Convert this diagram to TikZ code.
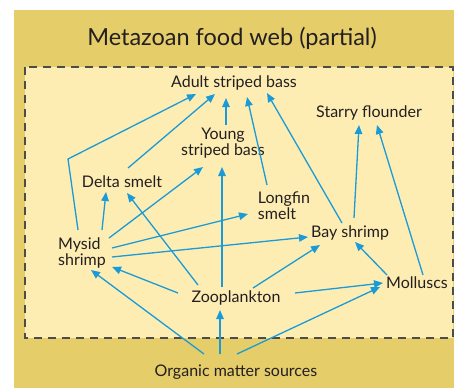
\documentclass[tikz,border=0pt]{standalone}
\usepackage{fontspec}
\setmainfont{Lato}
\usepackage{xcolor}
\usetikzlibrary{arrows.meta}

\definecolor{outeryellow}{HTML}{E5CD6A}
\definecolor{inneryellow}{HTML}{FDEDB3}
\definecolor{webblue}{HTML}{1A9BD7}
\definecolor{labelgray}{HTML}{231F20}

\begin{document}
\begin{tikzpicture}[x=1pt,y=-1pt,
  species/.style={inner sep=0pt,text=labelgray,font=\fontsize{16}{16}\selectfont},
  feeds/.style={draw=webblue,line width=1.3pt,-{Triangle[length=9pt,width=7.5pt]}}]
\useasboundingbox (0,0) rectangle (454,388);
% background panels
\fill[outeryellow] (14,10) rectangle (454,388);
\filldraw[fill=inneryellow,draw=black!70,line width=1.5pt,dash pattern=on 8pt off 6pt] (25,67) rectangle (453,338);
\node[species,font=\fontsize{23.5}{26}\selectfont] (title) at (232,38) {Metazoan food web (partial)};

% species
\node[species] (adult) at (234,83) {Adult striped bass};
\node[species] (flounder) at (369,113) {Starry flounder};
\node[species,align=center] (young) at (223,143) {Young\\striped bass};
\node[species] (delta) at (122,182) {Delta smelt};
\node[species,align=left] (longfin) at (284,206) {Longfin\\smelt};
\node[species] (bay) at (350,233) {Bay shrimp};
\node[species,align=left] (mysid) at (82,253) {Mysid\\shrimp};
\node[species] (zoo) at (236,298) {Zooplankton};
\node[species] (moll) at (417,283) {Molluscs};
\node[species] (organic) at (236,372) {Organic matter sources};

% who eats whom
\coordinate (bend) at (68,159);
\draw[feeds] ([shift={(-4,-23)}]mysid.center) -- (bend) -- ([shift={(-38,11)}]adult.center);
\draw[feeds] ([shift={(6,-14)}]delta.center) -- ([shift={(-19,11)}]adult.center);
\draw[feeds] ([shift={(3,-18)}]young.center) -- ([shift={(-8,15)}]adult.center);
\draw[feeds] ([shift={(-17,-21)}]longfin.center) -- ([shift={(13,14)}]adult.center);
\draw[feeds] ([shift={(-8,-10)}]bay.center) -- ([shift={(33,10)}]adult.center);
\draw[feeds] ([shift={(4,-15)}]bay.center) -- ([shift={(-10,12)}]flounder.center);
\draw[feeds] ([shift={(6,-8)}]moll.center) -- ([shift={(8,12)}]flounder.center);
\draw[feeds] ([shift={(20,-23)}]mysid.center) -- ([shift={(-16,10)}]delta.center);
\draw[feeds] ([shift={(27,-15)}]mysid.center) -- ([shift={(-20,24)}]young.center);
\draw[feeds] ([shift={(30,-5)}]mysid.center) -- ([shift={(-36,8)}]longfin.center);
\draw[feeds] ([shift={(30,4)}]mysid.center) -- ([shift={(-42,4)}]bay.center);
\draw[feeds] ([shift={(-38,-13)}]zoo.center) -- ([shift={(5,11)}]delta.center);
\draw[feeds] ([shift={(-14,-11)}]zoo.center) -- ([shift={(-1,24)}]young.center);
\draw[feeds] ([shift={(17,-10)}]zoo.center) -- ([shift={(-30,12)}]bay.center);
\draw[feeds] ([shift={(-58,-5)}]zoo.center) -- ([shift={(30,14)}]mysid.center);
\draw[feeds] ([shift={(59,-5)}]zoo.center) -- ([shift={(-34,0)}]moll.center);
\draw[feeds] ([shift={(-30,-8)}]moll.center) -- ([shift={(5,9)}]bay.center);
\draw[feeds] ([shift={(-32,-18)}]organic.center) -- ([shift={(9,17)}]mysid.center);
\draw[feeds] ([shift={(-16,-18)}]organic.center) -- ([shift={(-16,12)}]zoo.center);
\draw[feeds] ([shift={(1,-18)}]organic.center) -- ([shift={(-37,4)}]moll.center);
\end{tikzpicture}
\end{document}
